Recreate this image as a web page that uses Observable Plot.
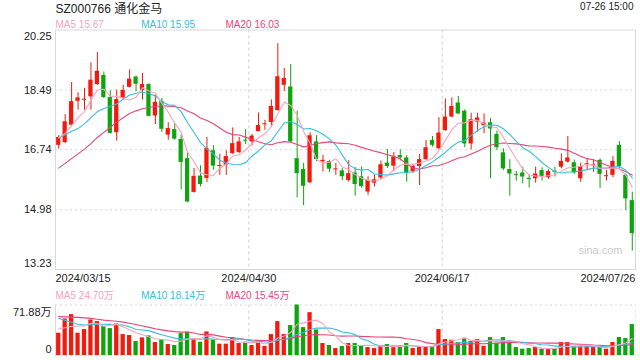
<!DOCTYPE html>
<html><head><meta charset="utf-8">
<script src="https://cdn.jsdelivr.net/npm/d3@7"></script>
<script src="https://cdn.jsdelivr.net/npm/@observablehq/plot@0.6"></script>
<style>
body{margin:0;background:#fff;}
#wrap{position:relative;width:640px;height:360px;overflow:hidden;background:#fff;}
#wrap svg{position:absolute;left:0;}
</style></head><body><div id="wrap"></div>
<script>
const title = "SZ000766 通化金马";
const timeLabel = "07-26 15:00";
const maNames = ["MA5", "MA10", "MA20"];
const maLegend = ["15.67", "15.95", "16.03"];
const volLegend = ["24.70万", "18.14万", "15.45万"];
const yTicks = [13.23, 14.98, 16.74, 18.49, 20.25];
const volMaxLabel = "71.88万";
const volMax = 71.88;
const xTickIdx = [0, 30, 60, 89];
const xTickLabels = ["2024/03/15", "2024/04/30", "2024/06/17", "2024/07/26"];

const open = [16.87,16.95,17.46,18.16,18.19,18.29,18.65,18.92,18.27,17.24,18.26,18.57,18.87,18.48,18.65,17.73,18.16,17.17,17.33,17.04,
16.48,15.49,15.97,15.90,16.71,16.25,16.29,16.63,16.66,17.02,16.97,17.27,17.47,17.54,17.89,18.63,18.58,16.48,16.16,15.77,
16.97,16.39,16.39,16.15,16.12,15.84,16.06,15.95,15.50,15.76,15.91,16.35,16.26,16.57,16.50,16.10,16.25,16.45,17.01,16.77,
17.30,17.70,18.11,17.87,16.91,17.55,17.45,17.53,17.19,16.65,16.16,16.01,16.06,15.90,15.89,16.13,15.92,16.11,16.23,16.38,
16.36,15.89,16.30,16.27,16.43,15.95,15.99,16.87,15.99,15.25];
const high = [17.15,17.77,18.71,18.41,18.54,19.29,19.59,19.02,18.47,18.49,18.63,19.08,18.90,18.98,18.68,18.34,18.24,17.53,17.51,17.17,
16.66,16.19,16.27,17.10,16.86,16.61,16.71,17.38,17.10,17.33,17.19,17.82,17.60,18.20,19.85,19.12,19.24,17.87,16.34,17.24,
17.15,16.58,16.43,16.34,16.19,16.42,16.22,16.24,15.95,16.00,16.41,16.75,16.66,16.74,16.57,16.29,16.60,17.01,17.13,17.68,
18.23,18.26,18.30,17.91,17.81,17.81,17.79,17.65,17.29,16.77,16.45,16.10,16.23,15.99,16.23,16.21,16.15,16.23,16.62,17.13,
16.44,16.35,16.47,16.43,16.47,16.13,16.54,16.98,16.03,15.50];
const low = [16.76,16.92,17.44,17.90,17.90,17.90,18.63,18.24,17.20,16.99,18.19,18.55,18.44,18.20,17.70,17.48,17.25,17.02,17.02,15.56,
15.19,15.47,15.65,15.78,16.14,15.99,15.99,16.60,16.63,16.89,16.85,17.27,17.31,17.41,17.87,18.44,16.95,15.33,15.10,15.75,
16.39,16.09,16.07,15.99,15.83,15.79,15.38,15.62,15.40,15.65,15.87,16.19,16.10,16.41,15.79,16.05,15.69,16.43,16.82,16.74,
17.28,17.68,17.77,16.80,16.74,17.26,17.21,15.89,16.72,16.13,15.38,15.82,15.74,15.62,15.76,15.82,15.87,15.94,16.18,16.35,
16.02,15.79,16.13,16.08,15.60,15.82,15.92,16.18,14.96,13.77];
const close = [17.10,17.56,18.15,18.26,18.22,18.78,19.04,18.27,17.22,18.21,18.48,18.81,18.66,18.65,17.72,18.13,17.34,17.36,17.05,16.37,
15.21,15.96,15.72,16.78,16.26,16.28,16.54,16.92,16.97,16.99,17.14,17.45,17.50,18.01,18.88,18.83,16.97,16.04,15.67,17.15,
16.45,16.43,16.17,16.18,15.95,16.04,15.72,15.66,15.84,15.86,16.30,16.25,16.52,16.50,16.04,16.25,16.45,16.80,16.87,17.23,
17.70,18.01,17.79,16.91,17.62,17.67,17.52,17.35,16.80,16.18,16.03,15.98,15.94,15.87,16.03,15.96,16.10,16.08,16.40,16.50,
16.06,16.25,16.33,16.30,16.02,15.98,16.40,16.25,15.30,14.28];
// volume in 万
const volume = [31.7,52.0,58.2,31.7,36.9,50.6,48.2,41.1,38.3,44.9,29.8,28.4,19.9,25.1,27.9,18.4,22.7,15.6,14.2,31.2,
33.1,23.2,18.9,33.6,21.8,16.1,16.1,25.1,17.0,18.9,14.2,18.9,12.8,29.8,48.2,29.8,42.6,71.88,39.7,61.0,
36.4,17.0,14.2,9.9,12.8,17.0,17.0,14.2,11.3,9.9,13.2,15.6,13.2,13.2,17.0,9.9,11.8,11.8,12.3,36.9,
22.7,21.8,18.4,24.6,19.9,22.7,13.2,25.5,17.5,25.5,20.3,11.3,9.0,9.9,11.3,9.0,9.9,9.9,18.4,18.4,
12.3,12.3,12.3,12.3,11.8,9.0,18.4,25.5,24.1,44.0];

const ma5Head = [17.10,17.22,17.45,17.68];
const ma10Head = [17.08,17.18,17.28,17.36,17.50,17.68,17.86,17.95,18.01];
const ma20Head = [16.20,16.34,16.48,16.62,16.76,16.92,17.10,17.25,17.40,17.55,17.68,17.80,17.88,17.94,17.98,18.01,18.03,18.02,18.00];
const vma5Head = [37.8,39.5,41.5,42.0];
const vma10Head = [53.0,50.0,47.0,44.5,43.5,44.0,44.5,44.5,44.3];
const vma20Head = [55.3,55.0,54.6,54.2,53.6,52.8,51.5,50.3,49.5,48.7,47.5,46.0,44.0,42.0,40.0,38.0,36.5,35.0,34.0];

function movingAvg(values, n, head) {
  return values.map((v, i) => i < n - 1 ? head[i] : d3.mean(values.slice(i - n + 1, i + 1)));
}

const RED = "#f3190c", GREEN = "#0ea40e";
const C5 = "#f6a3c0", C10 = "#35bfdb", C20 = "#e8457c";
const rows = close.map((c, i) => ({i, o: open[i], h: high[i], l: low[i], c, v: volume[i], col: c >= open[i] ? RED : GREEN}));
const ma5 = movingAvg(close, 5, ma5Head), ma10 = movingAvg(close, 10, ma10Head), ma20 = movingAvg(close, 20, ma20Head);
const vma5 = movingAvg(volume, 5, vma5Head), vma10 = movingAvg(volume, 10, vma10Head), vma20 = movingAvg(volume, 20, vma20Head);

const font = "'Liberation Sans', Arial, 'Noto Sans CJK SC', sans-serif";
const hw = 0.33;
const legendX = [0, 85.7, 170];
const maColors = [C5, C10, C20];

const main = Plot.plot({
  width: 640, height: 284,
  marginLeft: 55, marginRight: 5, marginTop: 29.5, marginBottom: 15,
  x: {type: "linear", domain: [-0.5, 89.5], axis: null},
  y: {type: "linear", domain: [13.23, 20.25], axis: null},
  color: {type: "identity"},
  style: {background: "transparent", fontFamily: font, overflow: "visible"},
  marks: [
    Plot.ruleY(yTicks.slice(1, 4), {stroke: "#d6d6d6", strokeDasharray: "2,3"}),
    Plot.ruleX(xTickIdx.slice(1, 3), {x: d => d - 0.5, stroke: "#cfcfcf", strokeDasharray: "3,3"}),
    Plot.frame({stroke: "#d9d9d9"}),
    Plot.text(["sina.com"], {frameAnchor: "bottom-right", text: d => d, textAnchor: "end", lineAnchor: "bottom", dx: -13, dy: -16, fill: "#cacaca", fontSize: 11}),
    Plot.ruleX(rows, {x: "i", y1: "l", y2: "h", stroke: "col"}),
    Plot.rect(rows, {x1: d => d.i - hw, x2: d => d.i + hw, y1: d => Math.min(d.o, d.c), y2: d => Math.max(d.o, d.c), fill: "col"}),
    Plot.line(rows, {x: "i", y: ma20, stroke: C20, strokeWidth: 1.1}),
    Plot.line(rows, {x: "i", y: ma10, stroke: C10, strokeWidth: 1.1}),
    Plot.line(rows, {x: "i", y: ma5, stroke: C5, strokeWidth: 1.1}),
    // y tick labels
    Plot.text(yTicks.slice(1, 4), {x: -0.5, y: d => d, text: d => d.toFixed(2), textAnchor: "end", dx: -4, fontSize: 11, fill: "#222"}),
    Plot.text([yTicks[4]], {x: -0.5, y: d => d, text: d => d.toFixed(2), textAnchor: "end", dx: -4, dy: 6, fontSize: 11, fill: "#222"}),
    Plot.text([yTicks[0]], {x: -0.5, y: d => d, text: d => d.toFixed(2), textAnchor: "end", dx: -4, dy: -6.5, fontSize: 11, fill: "#222"}),
    // x tick labels
    Plot.text([0], {x: d => xTickIdx[d] - 0.5, y: 13.23, text: d => xTickLabels[d], textAnchor: "start", dy: 9.3, fontSize: 11, fill: "#222"}),
    Plot.text([1, 2], {x: d => xTickIdx[d] - 0.5, y: 13.23, text: d => xTickLabels[d], textAnchor: "middle", dy: 9.3, fontSize: 11, fill: "#222"}),
    Plot.text([3], {x: d => xTickIdx[d] + 0.5, y: 13.23, text: d => xTickLabels[d], textAnchor: "end", dy: 9.3, fontSize: 11, fill: "#222"}),
    // title and legends
    Plot.text([title], {frameAnchor: "top-left", text: d => d, textAnchor: "start", lineAnchor: "bottom", dy: -17, fontSize: 12, fill: "#222"}),
    Plot.text([timeLabel], {frameAnchor: "top-right", text: d => d, textAnchor: "end", lineAnchor: "bottom", dx: -2, dy: -20.5, fontSize: 10, fill: "#222"}),
    ...[0, 1, 2].map(k => Plot.text([k], {frameAnchor: "top-left", text: d => maNames[d] + " " + maLegend[d], textAnchor: "start", lineAnchor: "bottom", dx: legendX[k], dy: -1.8, fontSize: 10, fill: maColors[k]}))
  ]
});
main.style.top = "0px";

const vol = Plot.plot({
  width: 640, height: 76,
  marginLeft: 55, marginRight: 5, marginTop: 20.5, marginBottom: 5,
  x: {type: "linear", domain: [-0.5, 89.5], axis: null},
  y: {type: "linear", domain: [0, volMax], axis: null},
  color: {type: "identity"},
  style: {background: "transparent", fontFamily: font, overflow: "visible"},
  marks: [
    Plot.ruleY([volMax, 0], {stroke: "#d6d6d6", strokeDasharray: "2,3"}),
    Plot.ruleX([-0.5], {stroke: "#d9d9d9"}),
    Plot.ruleX([89.5], {stroke: "#e3e3e3", strokeDasharray: "2,3"}),
    Plot.ruleX(xTickIdx.slice(1, 3), {x: d => d - 0.5, stroke: "#cfcfcf", strokeDasharray: "3,3"}),
    Plot.rect(rows, {x1: d => d.i - hw, x2: d => d.i + hw, y1: 0, y2: "v", fill: "col"}),
    Plot.line(rows, {x: "i", y: vma20, stroke: C20, strokeWidth: 1.1}),
    Plot.line(rows, {x: "i", y: vma10, stroke: C10, strokeWidth: 1.1}),
    Plot.line(rows, {x: "i", y: vma5, stroke: C5, strokeWidth: 1.1}),
    Plot.text([volMax], {x: -0.5, y: d => d, text: () => volMaxLabel, textAnchor: "end", dx: -4, dy: 7, fontSize: 11, fill: "#222"}),
    Plot.text([0], {x: -0.5, y: d => d, text: () => "0", textAnchor: "end", dx: -4, dy: -6, fontSize: 11, fill: "#222"}),
    ...[0, 1, 2].map(k => Plot.text([k], {frameAnchor: "top-left", text: d => maNames[d] + " " + volLegend[d], textAnchor: "start", lineAnchor: "bottom", dx: legendX[k], dy: -6, fontSize: 10, fill: maColors[k]}))
  ]
});
vol.style.top = "284px";

const wrap = document.getElementById("wrap");
wrap.appendChild(main);
wrap.appendChild(vol);
</script>
</body></html>
